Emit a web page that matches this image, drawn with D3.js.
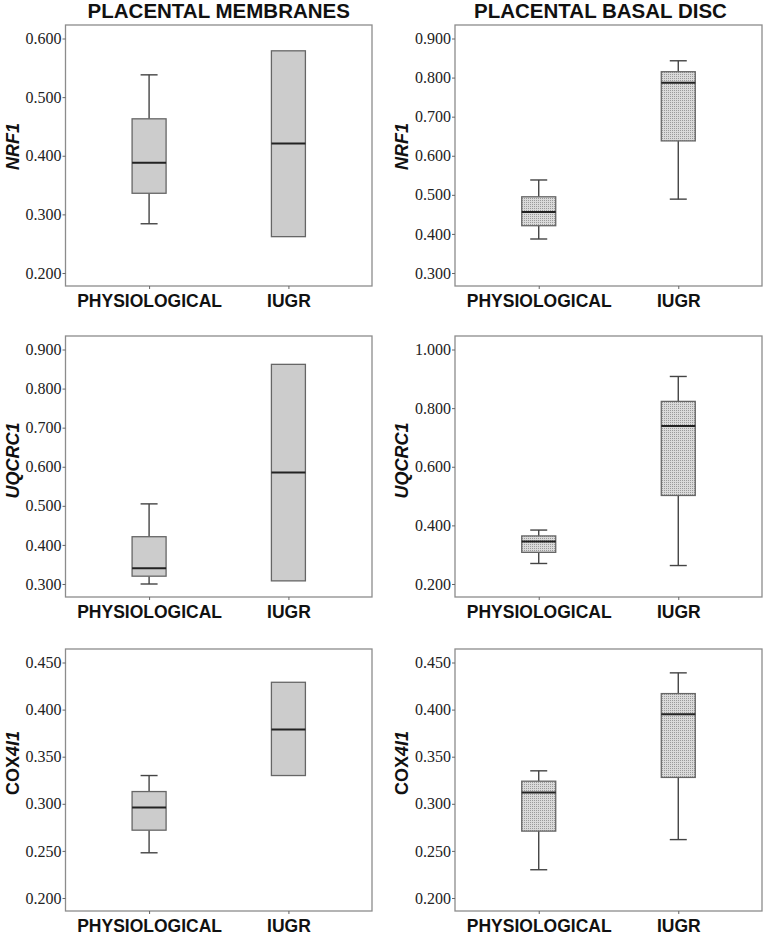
<!DOCTYPE html>
<html>
<head>
<meta charset="utf-8">
<script src="https://cdn.jsdelivr.net/npm/d3@7"></script>
<style>
html,body{margin:0;padding:0;background:#fff;}
svg{display:block;}
</style>
</head>
<body>
<svg id="chart" width="764" height="937"></svg>
<script>
// ---------- data ----------
const categories = ["PHYSIOLOGICAL", "IUGR"];
const columnTitles = ["PLACENTAL MEMBRANES", "PLACENTAL BASAL DISC"];
const geneLabels = ["NRF1", "UQCRC1", "COX4I1"];

// box stats per category: [min, q1, median, q3, max]
const nrf1Membranes    = [[0.284, 0.336, 0.388, 0.463, 0.538], [0.262, 0.262, 0.421, 0.579, 0.579]];
const nrf1BasalDisc    = [[0.387, 0.421, 0.456, 0.495, 0.538], [0.489, 0.638, 0.787, 0.815, 0.843]];
const uqcrc1Membranes  = [[0.300, 0.320, 0.340, 0.421, 0.505], [0.308, 0.308, 0.585, 0.862, 0.862]];
const uqcrc1BasalDisc  = [[0.270, 0.308, 0.345, 0.364, 0.384], [0.263, 0.502, 0.739, 0.823, 0.908]];
const cox4i1Membranes  = [[0.248, 0.272, 0.296, 0.313, 0.330], [0.330, 0.330, 0.379, 0.429, 0.429]];
const cox4i1BasalDisc  = [[0.230, 0.271, 0.312, 0.324, 0.335], [0.262, 0.328, 0.395, 0.417, 0.439]];

// y tick values
const nrf1MembranesTicks   = [0.2, 0.3, 0.4, 0.5, 0.6];
const nrf1BasalDiscTicks   = [0.3, 0.4, 0.5, 0.6, 0.7, 0.8, 0.9];
const uqcrc1MembranesTicks = [0.3, 0.4, 0.5, 0.6, 0.7, 0.8, 0.9];
const uqcrc1BasalDiscTicks = [0.2, 0.4, 0.6, 0.8, 1.0];
const cox4i1MembranesTicks = [0.20, 0.25, 0.30, 0.35, 0.40, 0.45];
const cox4i1BasalDiscTicks = [0.20, 0.25, 0.30, 0.35, 0.40, 0.45];

// ---------- layout ----------
const panels = [
  {row:0, col:0, gene:geneLabels[0], stats:nrf1Membranes,   ticks:nrf1MembranesTicks,   dotted:false},
  {row:0, col:1, gene:geneLabels[0], stats:nrf1BasalDisc,   ticks:nrf1BasalDiscTicks,   dotted:true},
  {row:1, col:0, gene:geneLabels[1], stats:uqcrc1Membranes, ticks:uqcrc1MembranesTicks, dotted:false},
  {row:1, col:1, gene:geneLabels[1], stats:uqcrc1BasalDisc, ticks:uqcrc1BasalDiscTicks, dotted:true},
  {row:2, col:0, gene:geneLabels[2], stats:cox4i1Membranes, ticks:cox4i1MembranesTicks, dotted:false},
  {row:2, col:1, gene:geneLabels[2], stats:cox4i1BasalDisc, ticks:cox4i1BasalDiscTicks, dotted:true}
];
const colX = [[65.5, 372], [455, 762]];
const rowY = [[25, 286], [336, 597], [649, 911]];
const labelOffset = [9, 6, 17];

const svg = d3.select("#chart");
const defs = svg.append("defs");
const pat = defs.append("pattern").attr("id","dots").attr("patternUnits","userSpaceOnUse")
  .attr("width",2).attr("height",2);
pat.append("rect").attr("width",2).attr("height",2).attr("fill","#dadada");
pat.append("rect").attr("width",1).attr("height",1).attr("fill","#9a9a9a");

const sans = '"Liberation Sans", Arial, Helvetica, sans-serif';
const serif = '"Liberation Serif", "Times New Roman", serif';

// column titles
columnTitles.forEach((t, i) => {
  svg.append("text")
    .attr("x", (colX[i][0] + colX[i][1]) / 2 - (i ? 8 : 0))
    .attr("y", 18)
    .attr("text-anchor", "middle")
    .style("font-family", sans).style("font-weight", "bold").style("font-size", "20.5px")
    .attr("fill", "#111")
    .text(t);
});

panels.forEach(p => {
  const [x0, x1] = colX[p.col];
  const [y0, y1] = rowY[p.row];
  const g = svg.append("g");

  const x = d3.scalePoint().domain(categories).range([x0, x1]).padding(0.6);
  const y = d3.scaleLinear().domain(d3.extent(p.ticks)).range([y1 - 13, y0 + 13.5]);

  // frame
  g.append("rect").attr("x", x0).attr("y", y0).attr("width", x1 - x0).attr("height", y1 - y0)
    .attr("fill", "none").attr("stroke", "#8c8c8c").attr("stroke-width", 1.3);

  // y axis
  const yAxis = d3.axisLeft(y).tickValues(p.ticks).tickFormat(d3.format(".3f")).tickSize(3).tickPadding(1);
  const ya = g.append("g").attr("transform", `translate(${x0},0)`).call(yAxis);
  ya.select(".domain").remove();
  ya.selectAll(".tick line").attr("stroke", "#666");
  ya.selectAll(".tick text").style("font-family", serif).style("font-size", "16px").attr("fill", "#222");

  // x axis
  const xAxis = d3.axisBottom(x).tickSize(3).tickPadding(6);
  const xa = g.append("g").attr("transform", `translate(0,${y1})`).call(xAxis);
  xa.select(".domain").remove();
  xa.selectAll(".tick line").attr("stroke", "#666");
  xa.selectAll(".tick text").style("font-family", sans).style("font-weight", "bold")
    .style("font-size", "17.5px").attr("fill", "#111").attr("dy", null).attr("y", 21);

  // y label
  const lbl = g.append("text")
    .attr("transform", `translate(${x0 - 47},${(y0 + y1) / 2 - labelOffset[p.row]}) rotate(-90)`)
    .attr("text-anchor", "middle")
    .style("font-family", sans).style("font-weight", "bold").style("font-size", "18px").attr("fill", "#111");
  if (p.gene === "COX4I1") {
    lbl.append("tspan").text("COX");
    lbl.append("tspan").style("font-style", "italic").text("4I1");
  } else {
    lbl.style("font-style", "italic").text(p.gene);
  }

  // boxes
  const bw = 34, cw = 17;
  p.stats.forEach((s, i) => {
    const cx = x(categories[i]);
    const [mn, q1, md, q3, mx] = s;
    const bg = g.append("g");
    if (mx > q3) {
      bg.append("line").attr("x1", cx).attr("x2", cx).attr("y1", y(mx)).attr("y2", y(q3))
        .attr("stroke", "#444").attr("stroke-width", 1.4);
      bg.append("line").attr("x1", cx - cw / 2).attr("x2", cx + cw / 2).attr("y1", y(mx)).attr("y2", y(mx))
        .attr("stroke", "#444").attr("stroke-width", 1.4);
    }
    if (mn < q1) {
      bg.append("line").attr("x1", cx).attr("x2", cx).attr("y1", y(q1)).attr("y2", y(mn))
        .attr("stroke", "#444").attr("stroke-width", 1.4);
      bg.append("line").attr("x1", cx - cw / 2).attr("x2", cx + cw / 2).attr("y1", y(mn)).attr("y2", y(mn))
        .attr("stroke", "#444").attr("stroke-width", 1.4);
    }
    bg.append("rect").attr("x", cx - bw / 2).attr("width", bw)
      .attr("y", y(q3)).attr("height", y(q1) - y(q3))
      .attr("fill", p.dotted ? "url(#dots)" : "#cccccc")
      .attr("stroke", "#666").attr("stroke-width", 1.3);
    bg.append("line").attr("x1", cx - bw / 2).attr("x2", cx + bw / 2).attr("y1", y(md)).attr("y2", y(md))
      .attr("stroke", "#222").attr("stroke-width", 2);
  });
});
</script>
</body>
</html>
